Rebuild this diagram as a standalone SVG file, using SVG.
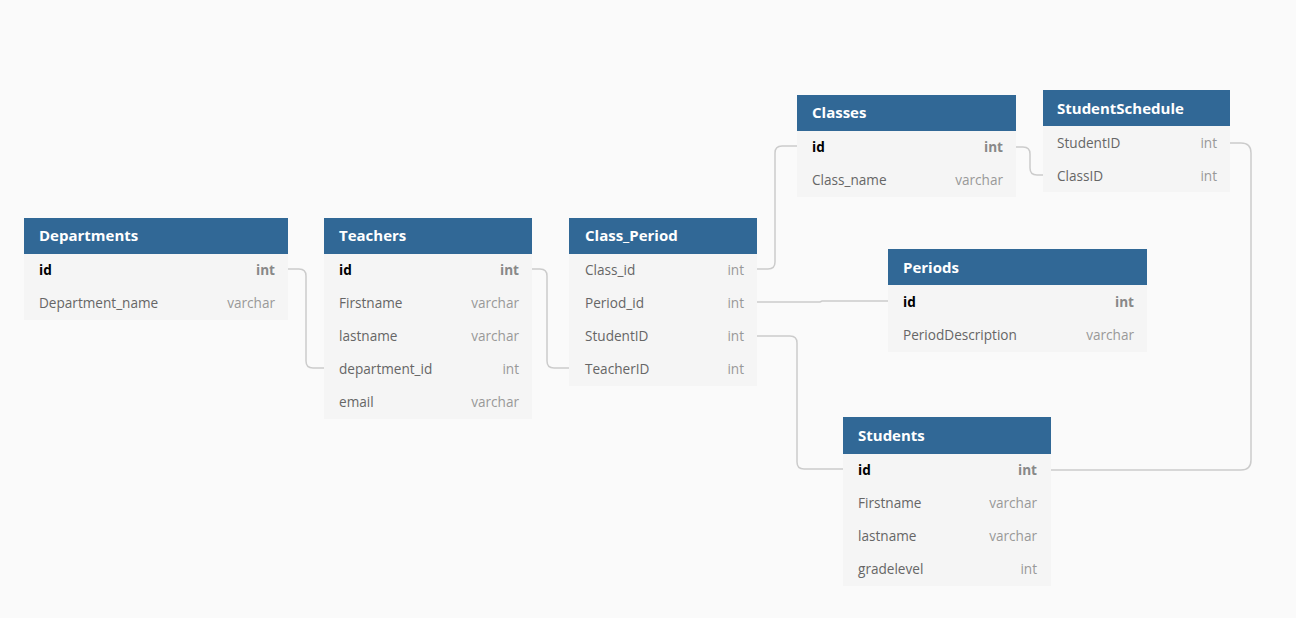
<svg xmlns="http://www.w3.org/2000/svg" width="1296" height="618" viewBox="0 0 1296 618">
<style>
.bg{fill:#fafafa}
.hd{fill:#316896}
.bd{fill:#f5f5f5}
.t{font-family:"Open Sans","Noto Sans","Liberation Sans",sans-serif;font-size:15px;font-weight:bold;fill:#ffffff}
.f{font-family:"Open Sans","Noto Sans","Liberation Sans",sans-serif;font-size:13.6px;fill:#666666}
.ty{font-family:"Open Sans","Noto Sans","Liberation Sans",sans-serif;font-size:13.6px;fill:#999999;text-anchor:end}
.pk{font-weight:bold;fill:#000000}
.pkt{font-weight:bold;fill:#888888}
.c{fill:none;stroke:#cccccc;stroke-width:1.5}
</style>
<rect class="bg" x="0" y="0" width="1296" height="618"/>
<g id="connectors">
<path class="c" d="M288 269 H299 Q306 269 306 276 V361 Q306 368 313 368 H324"/>
<path class="c" d="M532 269 H540 Q547 269 547 276 V361 Q547 368 554 368 H569"/>
<path class="c" d="M757 269 H768 Q775 269 775 262 V153 Q775 146 782 146 H797"/>
<path class="c" d="M757 302 H820 L822 301 H888"/>
<path class="c" d="M757 336 H790 Q797 336 797 343 V462 Q797 469 804 469 H843"/>
<path class="c" d="M1016 147 H1023 Q1030 147 1030 154 V168 Q1030 175 1037 175 H1043"/>
<path class="c" d="M1229 143 H1241 Q1251 143 1251 153 V460 Q1251 470 1241 470 H1050"/>
</g>
<g id="Departments">
<rect class="hd" x="24" y="218" width="264" height="36"/>
<rect class="bd" x="24" y="254" width="264" height="66"/>
<text class="t" x="39" y="241">Departments</text>
<text class="f pk" x="39" y="275">id</text><text class="ty pkt" x="275" y="275">int</text>
<text class="f" x="39" y="308">Department_name</text><text class="ty" x="275" y="308">varchar</text>
</g>
<g id="Teachers">
<rect class="hd" x="324" y="218" width="208" height="36"/>
<rect class="bd" x="324" y="254" width="208" height="165"/>
<text class="t" x="339" y="241">Teachers</text>
<text class="f pk" x="339" y="275">id</text><text class="ty pkt" x="519" y="275">int</text>
<text class="f" x="339" y="308">Firstname</text><text class="ty" x="519" y="308">varchar</text>
<text class="f" x="339" y="341">lastname</text><text class="ty" x="519" y="341">varchar</text>
<text class="f" x="339" y="374">department_id</text><text class="ty" x="519" y="374">int</text>
<text class="f" x="339" y="407">email</text><text class="ty" x="519" y="407">varchar</text>
</g>
<g id="Class_Period">
<rect class="hd" x="569" y="218" width="188" height="36"/>
<rect class="bd" x="569" y="254" width="188" height="132"/>
<text class="t" x="585" y="241">Class_Period</text>
<text class="f" x="585" y="275">Class_id</text><text class="ty" x="744" y="275">int</text>
<text class="f" x="585" y="308">Period_id</text><text class="ty" x="744" y="308">int</text>
<text class="f" x="585" y="341">StudentID</text><text class="ty" x="744" y="341">int</text>
<text class="f" x="585" y="374">TeacherID</text><text class="ty" x="744" y="374">int</text>
</g>
<g id="Classes">
<rect class="hd" x="797" y="95" width="219" height="36"/>
<rect class="bd" x="797" y="131" width="219" height="66"/>
<text class="t" x="812" y="118">Classes</text>
<text class="f pk" x="812" y="152">id</text><text class="ty pkt" x="1003" y="152">int</text>
<text class="f" x="812" y="185">Class_name</text><text class="ty" x="1003" y="185">varchar</text>
</g>
<g id="StudentSchedule">
<rect class="hd" x="1043" y="90" width="187" height="36"/>
<rect class="bd" x="1043" y="126" width="187" height="66"/>
<text class="t" x="1057" y="114">StudentSchedule</text>
<text class="f" x="1057" y="148">StudentID</text><text class="ty" x="1217" y="148">int</text>
<text class="f" x="1057" y="181">ClassID</text><text class="ty" x="1217" y="181">int</text>
</g>
<g id="Periods">
<rect class="hd" x="888" y="249" width="259" height="36"/>
<rect class="bd" x="888" y="285" width="259" height="67"/>
<text class="t" x="903" y="273">Periods</text>
<text class="f pk" x="903" y="307">id</text><text class="ty pkt" x="1134" y="307">int</text>
<text class="f" x="903" y="340">PeriodDescription</text><text class="ty" x="1134" y="340">varchar</text>
</g>
<g id="Students">
<rect class="hd" x="843" y="417" width="208" height="37"/>
<rect class="bd" x="843" y="454" width="208" height="132"/>
<text class="t" x="858" y="441">Students</text>
<text class="f pk" x="858" y="475">id</text><text class="ty pkt" x="1037" y="475">int</text>
<text class="f" x="858" y="508">Firstname</text><text class="ty" x="1037" y="508">varchar</text>
<text class="f" x="858" y="541">lastname</text><text class="ty" x="1037" y="541">varchar</text>
<text class="f" x="858" y="574">gradelevel</text><text class="ty" x="1037" y="574">int</text>
</g>
</svg>
